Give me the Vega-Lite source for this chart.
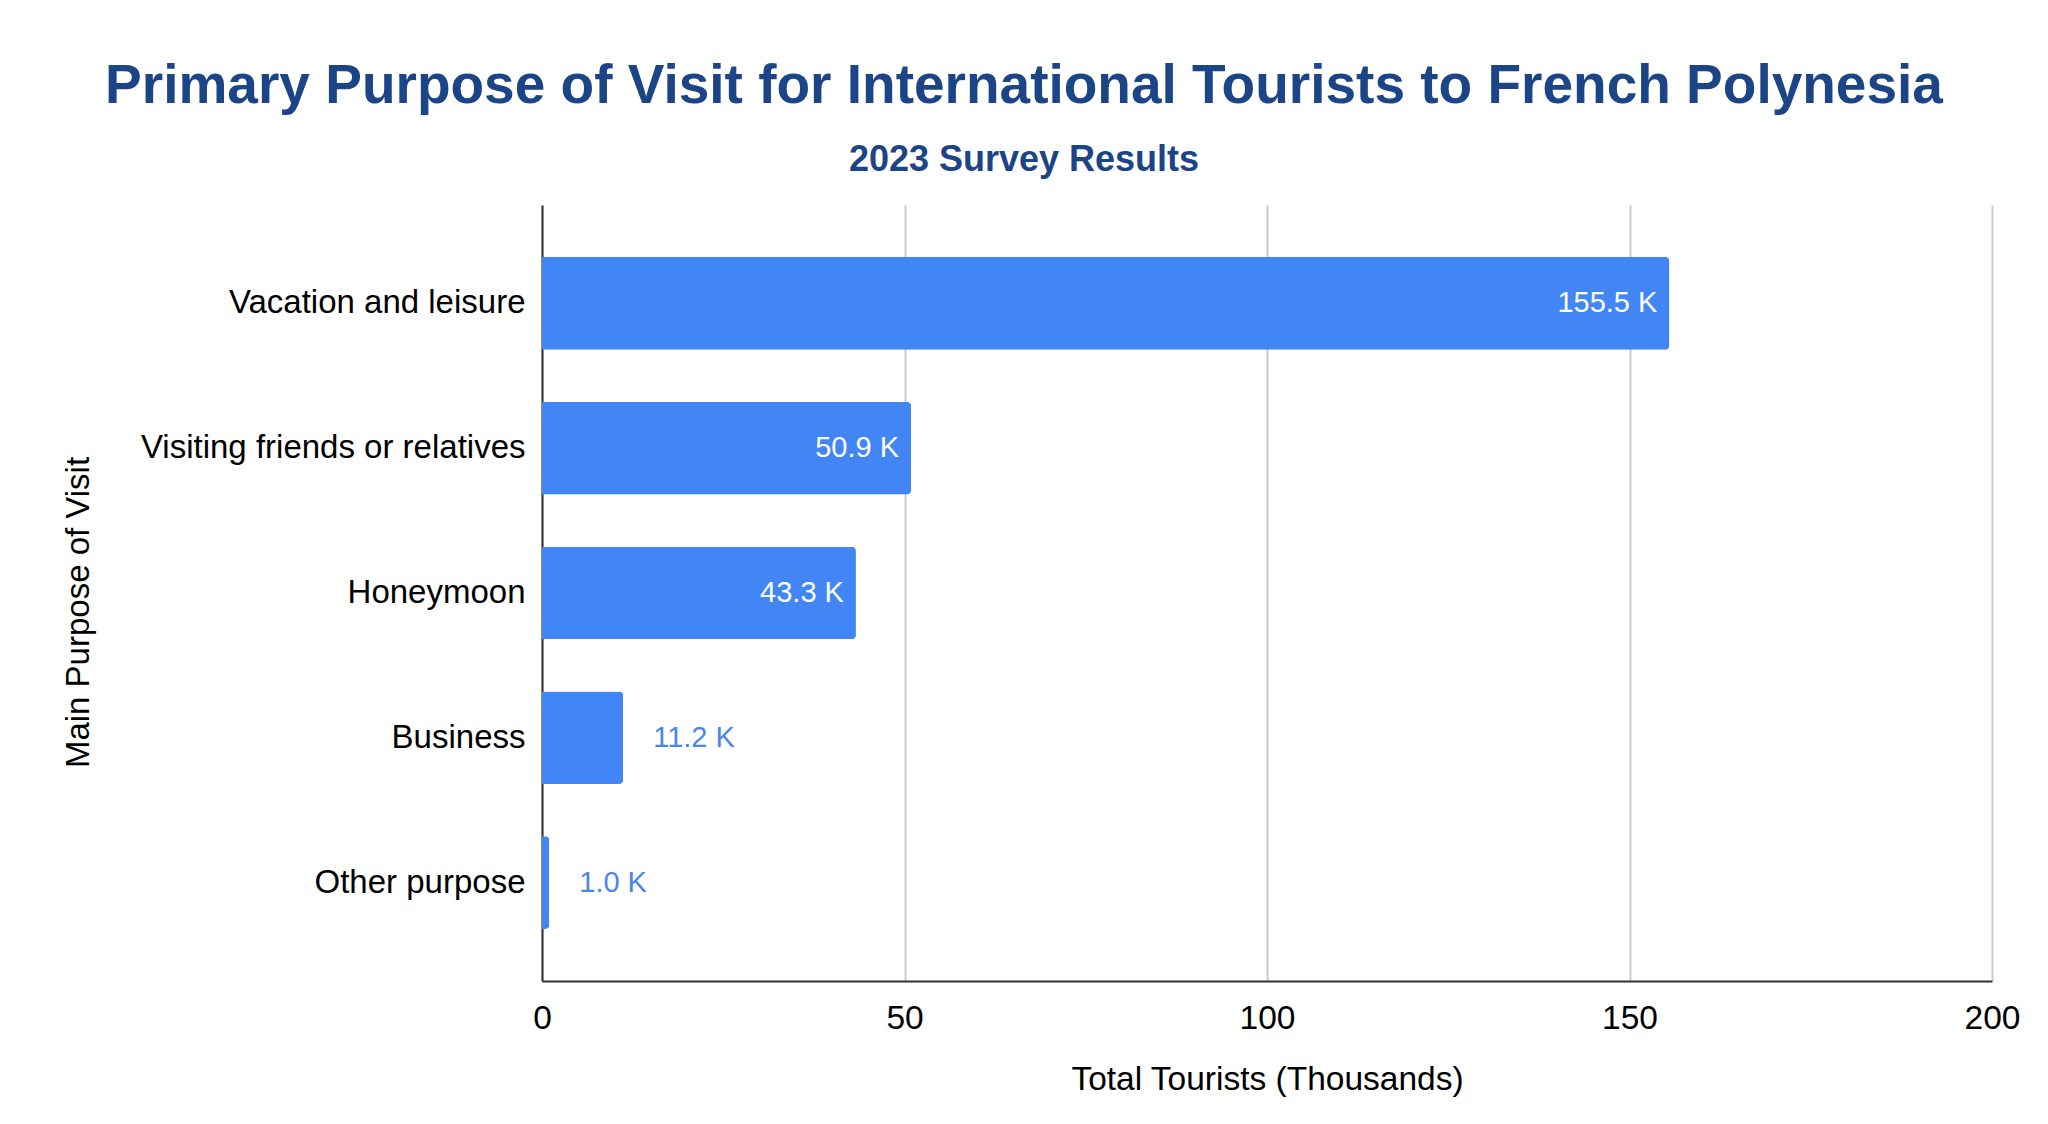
{
  "$schema": "https://vega.github.io/schema/vega-lite/v6.json",
  "autosize": "none",
  "padding": {"left": 542, "top": 205, "right": 56, "bottom": 143},
  "width": 1450,
  "height": 776,
  "background": "white",
  "config": {
    "font": "Liberation Sans",
    "view": {"stroke": null}
  },
  "title": {
    "text": "Primary Purpose of Visit for International Tourists to French Polynesia",
    "subtitle": "2023 Survey Results",
    "anchor": "middle",
    "frame": "group",
    "dx": -243,
    "offset": 26,
    "font": "Liberation Sans",
    "fontSize": 55,
    "fontWeight": "bold",
    "color": "#1c4587",
    "subtitleFont": "Liberation Sans",
    "subtitleFontSize": 36,
    "subtitleFontWeight": "bold",
    "subtitleColor": "#1c4587",
    "subtitlePadding": 28
  },
  "data": {
    "values": [
      {"purpose": "Vacation and leisure", "tourists": 155.5, "label": "155.5 K"},
      {"purpose": "Visiting friends or relatives", "tourists": 50.9, "label": "50.9 K"},
      {"purpose": "Honeymoon", "tourists": 43.3, "label": "43.3 K"},
      {"purpose": "Business", "tourists": 11.2, "label": "11.2 K"},
      {"purpose": "Other purpose", "tourists": 1.0, "label": "1.0 K"}
    ]
  },
  "encoding": {
    "y": {
      "field": "purpose",
      "type": "nominal",
      "sort": null,
      "title": "Main Purpose of Visit",
      "scale": {"paddingInner": 0.36, "paddingOuter": 0.36},
      "axis": {
        "ticks": false,
        "domainColor": "#333333",
        "domainWidth": 2,
        "labelFontSize": 33,
        "labelLimit": 0,
        "labelColor": "#000000",
        "labelPadding": 17,
        "titleFontSize": 33,
        "titleFontWeight": "normal",
        "titleColor": "#000000",
        "titleBaseline": "middle",
        "titleX": -464,
        "titleY": 407
      }
    },
    "x": {
      "field": "tourists",
      "type": "quantitative",
      "title": "Total Tourists (Thousands)",
      "scale": {"domain": [0, 200]},
      "axis": {
        "values": [0, 50, 100, 150, 200],
        "ticks": false,
        "grid": true,
        "gridColor": "#cccccc",
        "gridWidth": 2,
        "domainColor": "#333333",
        "domainWidth": 2,
        "labelFontSize": 33.5,
        "labelFlush": false,
        "labelColor": "#000000",
        "labelPadding": 21,
        "titleFontSize": 33.5,
        "titleFontWeight": "normal",
        "titleColor": "#000000",
        "titlePadding": 29
      }
    }
  },
  "layer": [
    {
      "mark": {"type": "bar", "color": "#4285f4", "cornerRadiusEnd": 4}
    },
    {
      "transform": [{"filter": "datum.tourists > 30"}],
      "mark": {
        "type": "text",
        "align": "right",
        "baseline": "middle",
        "dx": -12,
        "fontSize": 29,
        "color": "#ffffff"
      },
      "encoding": {"text": {"field": "label"}}
    },
    {
      "transform": [{"filter": "datum.tourists <= 30"}],
      "mark": {
        "type": "text",
        "align": "left",
        "baseline": "middle",
        "dx": 30,
        "fontSize": 29,
        "color": "#4a86e8"
      },
      "encoding": {"text": {"field": "label"}}
    }
  ]
}
